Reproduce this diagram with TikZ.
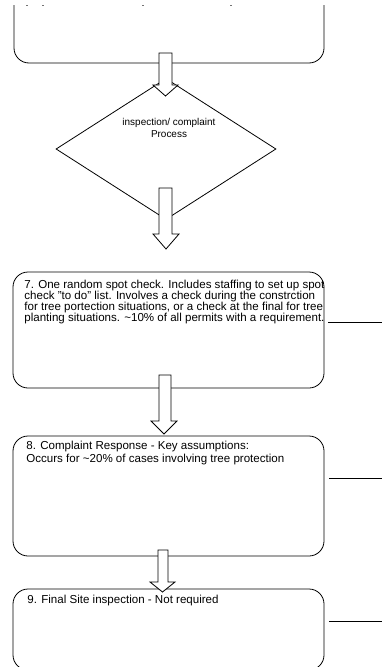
\documentclass[tikz,border=0pt]{standalone}
\usepackage{fontspec}
\setmainfont{Liberation Sans}
\usetikzlibrary{shapes.geometric}
\newcommand\blkarrow[7]{%
  \draw[blockarrow] (#1,#3) -- (#2,#3) -- (#2,#4) -- (#6,#4) -- ({(#5+#6)/2},#7) -- (#5,#4) -- (#1,#4) -- cycle;}
\begin{document}
\begin{tikzpicture}[x=1bp,y=-1bp, line width=0.8bp,
  flowbox/.style={draw, rounded corners=15bp, minimum width=311bp, inner sep=0pt},
  blockarrow/.style={draw, fill=white, line join=miter},
  txt/.style={font=\fontsize{11.6}{11}\selectfont, anchor=base west, inner sep=0pt},
  dtxt/.style={font=\fontsize{10}{12}\selectfont, align=center, inner sep=0pt},
  link/.style={draw},
  speck/.style={fill=black!55}]
\useasboundingbox (0,0) rectangle (382,667);
% top box (cut off)
\begin{scope}
  \clip (0,6) rectangle (382,667);
  \node[flowbox, minimum width=310bp, minimum height=93bp] (b0) at (169,16.5) {};
\end{scope}
\foreach \sx/\nm in {27/s1,43/s2,143/s3,231/s4}
  \fill[speck] (\sx-0.6,5) rectangle (\sx+0.6,6.4);
% diamond
\node[draw, diamond, minimum width=220bp, minimum height=141bp, inner sep=0pt] (dm) at (166,149) {};
\node[dtxt] (dmt) at (169,128) {inspection/ complaint\\Process};
% boxes
\node[flowbox, minimum height=116bp] (b7) at (168.5,330) {};
\node[flowbox, minimum height=120bp] (b8) at (168.5,496) {};
\node[flowbox, minimum height=81bp] (b9) at (168.5,629.5) {};
% box 7 text, clipped to the box
\begin{scope}
  \clip[rounded corners=15bp] (b7.south west) rectangle (b7.north east);
  \node[txt] (t7a) at (24,288) {7. One random spot check. Includes staffing to set up spot};
  \node[txt] (t7b) at (24,299) {check "to do" list. Involves a check during the constrction};
  \node[txt] (t7c) at (24,310) {for tree portection situations, or a check at the final for tree};
  \node[txt] (t7d) at (24,321) {planting situations. \textasciitilde10\% of all permits with a requirement.};
\end{scope}
\node[txt] (t8a) at (26,449) {8. Complaint Response - Key assumptions:};
\node[txt] (t8b) at (26,462) {Occurs for \textasciitilde20\% of cases involving tree protection};
\node[txt] (t9a) at (27,603) {9. Final Site inspection - Not required};
% connectors to the right
\coordinate (e7) at (382,322);
\coordinate (e8) at (382,478);
\coordinate (e9) at (382,621);
\draw[link] ([xshift=4bp]b7.east |- e7) -- (e7);
\draw[link] ([xshift=5bp]b8.east |- e8) -- (e8);
\draw[link] ([xshift=5bp]b9.east |- e9) -- (e9);
% block arrows
\blkarrow{159}{172}{53}{85}{153}{178}{96}
\blkarrow{159}{172}{188}{234}{153}{179}{249}
\blkarrow{159}{171}{375}{421}{151}{177}{434}
\blkarrow{158}{168}{550}{582}{150}{175}{592}
\end{tikzpicture}
\end{document}
